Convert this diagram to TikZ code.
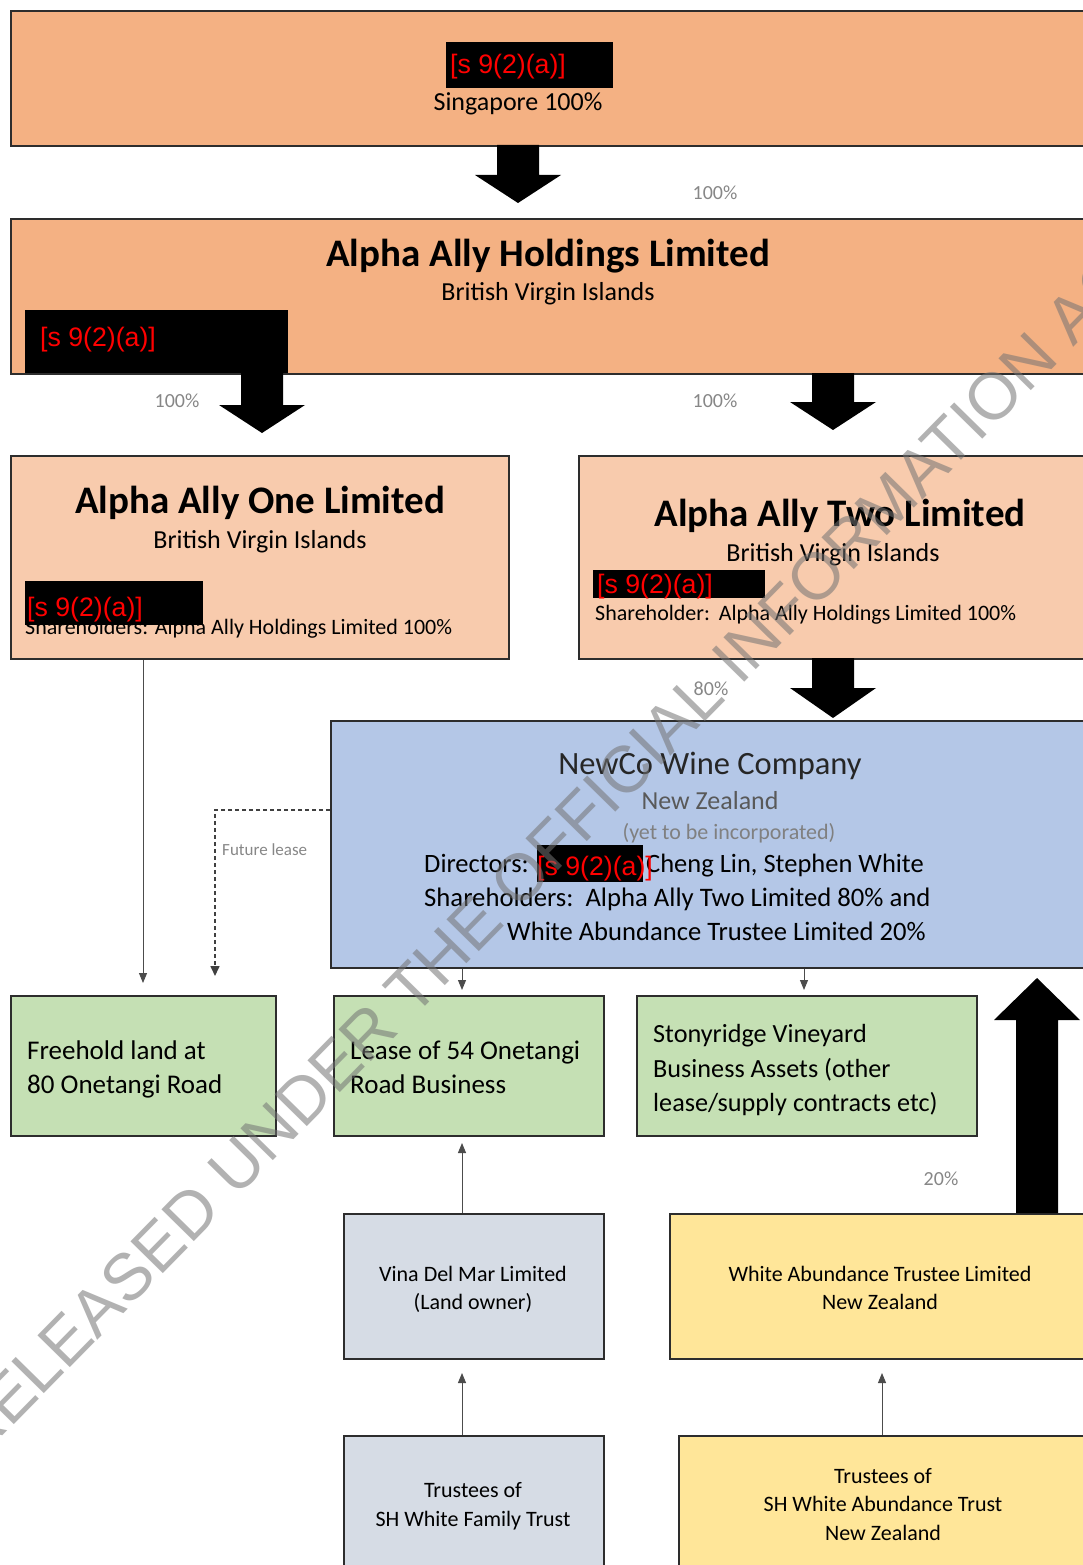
\documentclass[tikz,border=0pt]{standalone}
\usepackage{fontspec}
\setmainfont{Carlito}
\newfontfamily\arialf{Liberation Sans}
\usetikzlibrary{arrows.meta,calc}
\definecolor{orgA}{RGB}{244,177,131}
\definecolor{orgB}{RGB}{248,203,173}
\definecolor{blueA}{RGB}{180,199,231}
\definecolor{greenA}{RGB}{197,224,180}
\definecolor{greyA}{RGB}{214,220,229}
\definecolor{yelA}{RGB}{255,230,153}
\definecolor{edgec}{RGB}{45,45,45}
\definecolor{pctc}{RGB}{135,135,135}
\newcommand\fs[1]{\fontsize{#1}{#1}\selectfont}
\newcommand\blockarrow[4]{%
  \fill[black] (#1-21,#2) -- (#1+21,#2) -- (#1+21,#3) -- (#1+43,#3) -- (#1,#4) -- (#1-43,#3) -- (#1-21,#3) -- cycle;}
\begin{document}
\begin{tikzpicture}[x=1pt,y=-1pt,
  box/.style={draw=edgec, line width=2.2pt, rectangle, inner sep=0pt, anchor=north west},
  lbl/.style={inner sep=0pt, anchor=base},
  lbll/.style={inner sep=0pt, anchor=base west},
  pctl/.style={inner sep=0pt, anchor=base, text=pctc, font=\fs{20}},
  rbox/.style={fill=black, inner sep=0pt, anchor=north west},
  rtxt/.style={inner sep=0pt, anchor=base west, text=red, font=\arialf\fs{26.7}},
  thinarrow/.style={draw=black!70, line width=1pt, -{Triangle[length=10pt,width=8pt]}},
  dasharrow/.style={draw=black!75, line width=1.6pt, dash pattern=on 4pt off 3pt, -{Triangle[length=10pt,width=9pt]}},
]
\useasboundingbox (0,0) rectangle (1083,1565);
\clip (0,0) rectangle (1083,1565);
\fill[white] (0,0) rectangle (1083,1565);

% ---------- boxes ----------
\node[box, fill=orgA, minimum width=1090pt, minimum height=135pt] (sg) at (10,10) {};
\node[box, fill=orgA, minimum width=1090pt, minimum height=155pt] (hold) at (10,218) {};
\node[box, fill=orgB, minimum width=498pt, minimum height=203pt] (one) at (10,455) {};
\node[box, fill=orgB, minimum width=522pt, minimum height=203pt] (two) at (578,455) {};
\node[box, fill=blueA, minimum width=770pt, minimum height=247pt] (newco) at (330,720) {};
\node[box, fill=greenA, minimum width=265pt, minimum height=140pt] (free) at (10,995) {};
\node[box, fill=greenA, minimum width=270pt, minimum height=140pt] (lease) at (333,995) {};
\node[box, fill=greenA, minimum width=340pt, minimum height=140pt] (stony) at (636,995) {};
\node[box, fill=greyA, minimum width=260pt, minimum height=145pt] (vina) at (343,1213) {};
\node[box, fill=yelA, minimum width=431pt, minimum height=145pt] (wat) at (669,1213) {};
\node[box, fill=greyA, minimum width=260pt, minimum height=150pt] (fam) at (343,1435) {};
\node[box, fill=yelA, minimum width=422pt, minimum height=150pt] (abt) at (678,1435) {};

% ---------- texts ----------
\node[lbl, font=\fs{26}] (sgt) at (518,111) {Singapore 100\%};
\node[lbl, font=\bfseries\fs{39}] (holdt) at (548,266) {Alpha Ally Holdings Limited};
\node[lbl, font=\fs{26}] (holdc) at (548,300) {British Virgin Islands};
\node[lbl, font=\bfseries\fs{39}] (onet) at (260,513) {Alpha Ally One Limited};
\node[lbl, font=\fs{26}] (onec) at (260,548) {British Virgin Islands};
\node[lbll, font=\fs{22}] (ones) at (25,634) {Shareholders: Alpha Ally Holdings Limited 100\%};
\node[lbl, font=\bfseries\fs{39}] (twot) at (840,526) {Alpha Ally Two Limited};
\node[lbl, font=\fs{26}] (twoc) at (833,561) {British Virgin Islands};
\node[lbll, font=\fs{22}] (twos) at (595,620) {Shareholder:\hspace{0.4em}Alpha Ally Holdings Limited 100\%};

\node[lbl, font=\fs{32.5}, text=black!85] (newt) at (710,774) {NewCo Wine Company};
\node[lbl, font=\fs{26}, text=black!65] (newc) at (710,809) {New Zealand};
\node[lbl, font=\fs{22}, text=black!50] (newy) at (729,839) {(yet to be incorporated)};
\node[lbll, font=\fs{26.5}] (newd) at (424,872) {Directors:};
\node[lbll, font=\fs{26.5}] (newd2) at (646,872) {Cheng Lin, Stephen White};
\node[lbll, font=\fs{26.7}] (news) at (424,906) {Shareholders:\hspace{0.45em}Alpha Ally Two Limited 80\% and};
\node[lbll, font=\fs{26.6}] (news2) at (507,940) {White Abundance Trustee Limited 20\%};

\node[lbll, font=\fs{27}] (free1) at (27,1059) {Freehold land at};
\node[lbll, font=\fs{27}] (free2) at (27,1093) {80 Onetangi Road};
\node[lbll, font=\fs{27}] (lease1) at (350,1059) {Lease of 54 Onetangi};
\node[lbll, font=\fs{27}] (lease2) at (350,1093) {Road Business};
\node[lbll, font=\fs{26.2}] (st1) at (653,1042) {Stonyridge Vineyard};
\node[lbll, font=\fs{26.2}] (st2) at (653,1077) {Business Assets (other};
\node[lbll, font=\fs{26.2}] (st3) at (653,1111) {lease/supply contracts etc)};

\node[lbl, font=\fs{22}] (vina1) at (473,1281) {Vina Del Mar Limited};
\node[lbl, font=\fs{22}] (vina2) at (473,1309) {(Land owner)};
\node[lbl, font=\fs{22}] (wat1) at (880,1281) {White Abundance Trustee Limited};
\node[lbl, font=\fs{22}] (wat2) at (880,1309) {New Zealand};
\node[lbl, font=\fs{22}] (fam1) at (473,1497) {Trustees of};
\node[lbl, font=\fs{22}] (fam2) at (473,1526) {SH White Family Trust};
\node[lbl, font=\fs{22}] (abt1) at (883,1483) {Trustees of};
\node[lbl, font=\fs{22}] (abt2) at (883,1511) {SH White Abundance Trust};
\node[lbl, font=\fs{22}] (abt3) at (883,1540) {New Zealand};

% ---------- redactions ----------
\node[rbox, minimum width=167pt, minimum height=46pt] (r1) at (446,42) {};
\node[rtxt] (r1t) at (450,74) {[s 9(2)(a)]};
\node[rbox, minimum width=263pt, minimum height=63pt] (r2) at (25,310) {};
\node[rtxt] (r2t) at (40,346) {[s 9(2)(a)]};
\node[rbox, minimum width=178pt, minimum height=44pt] (r3) at (25,581) {};
\node[rtxt] (r3t) at (27,616) {[s 9(2)(a)]};
\node[rbox, minimum width=172pt, minimum height=28pt] (r4) at (593,570) {};
\node[rtxt] (r4t) at (597,593) {[s 9(2)(a)]};
\node[rbox, minimum width=106pt, minimum height=37pt] (r5) at (537,845) {};
\node[rtxt] (r5t) at (537,875) {[s 9(2)(a)]};

% ---------- block arrows ----------
\blockarrow{518}{145}{175}{203}
\blockarrow{262}{373}{405}{433}
\blockarrow{833}{373}{402}{430}
\blockarrow{833}{658}{688}{718}
\blockarrow{1037}{1213}{1020}{978}
\node[pctl] (p1) at (715,200) {100\%};
\node[pctl] (p2) at (177,407) {100\%};
\node[pctl] (p3) at (715,407) {100\%};
\node[pctl] (p4) at (711,695) {80\%};
\node[pctl] (p5) at (941,1185) {20\%};

% ---------- thin connectors ----------
\coordinate (c1) at (143,983);
\draw[thinarrow] (c1 |- one.south) -- (c1);
\coordinate (fl) at (215,810);
\coordinate (c2) at (215,976);
\draw[dasharrow] (fl -| newco.west) -- (fl) -- (c2);
\node[inner sep=0pt, anchor=base west, text=pctc, font=\fs{17}] (flt) at (222,855) {Future lease};
\coordinate (c3) at (462,990);
\draw[thinarrow] (c3 |- newco.south) -- (c3);
\coordinate (c4) at (804,990);
\draw[thinarrow] (c4 |- newco.south) -- (c4);
\coordinate (c5) at (462,1143);
\draw[thinarrow] (c5 |- vina.north) -- (c5);
\coordinate (c6) at (462,1373);
\draw[thinarrow] (c6 |- fam.north) -- (c6);
\coordinate (c7) at (882,1373);
\draw[thinarrow] (c7 |- abt.north) -- (c7);

% ---------- watermark ----------
\node[rotate=45.5, text=black!55, opacity=0.55, inner sep=0pt, font=\arialf\fs{66}] (wm) at (555,842) {RELEASED UNDER THE OFFICIAL INFORMATION ACT};
\end{tikzpicture}
\end{document}
